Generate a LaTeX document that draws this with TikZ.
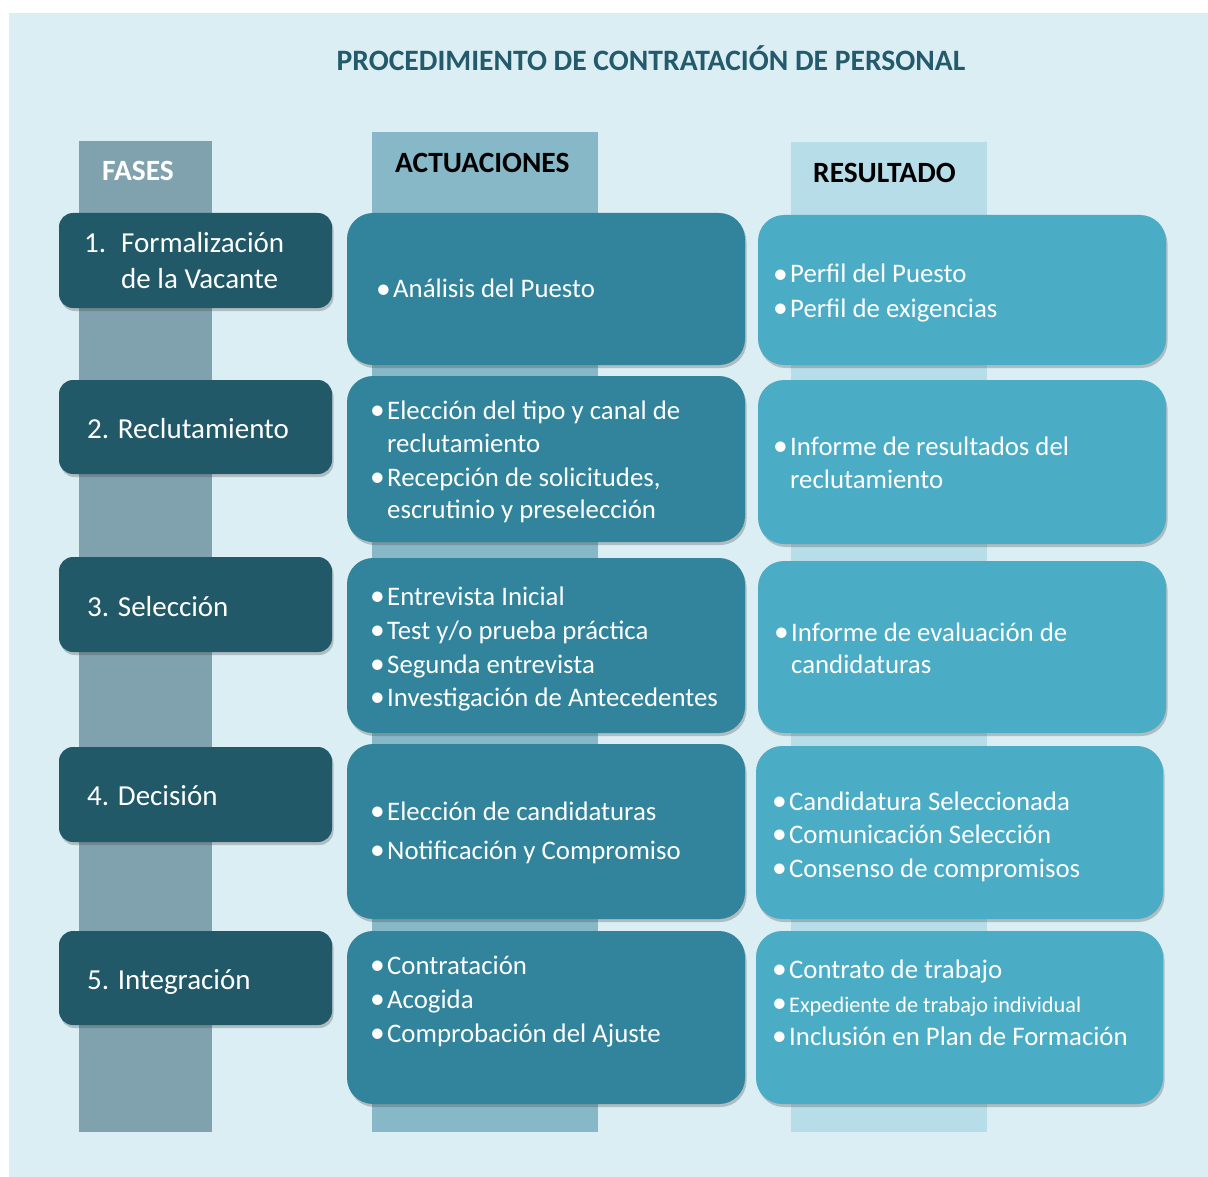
\documentclass[tikz,border=0pt]{standalone}
\usepackage{fontspec}
\setmainfont{Carlito}
\usetikzlibrary{shadows,fit}
\definecolor{bgc}{HTML}{DBEEF4}
\definecolor{barfase}{HTML}{7FA2AE}
\definecolor{baract}{HTML}{86B8C7}
\definecolor{barres}{HTML}{B7DDE8}
\definecolor{phasec}{HTML}{215968}
\definecolor{actc}{HTML}{31849B}
\definecolor{resc}{HTML}{4BACC6}
\definecolor{titlec}{HTML}{245B6C}
\tikzset{
  shad/.style={drop shadow={shadow xshift=1.5pt,shadow yshift=-3pt,opacity=0.3,fill=black!70}},
  phasebox/.style={fill=phasec, rounded corners=14pt, inner sep=0pt, shad},
  actbox/.style={fill=actc, rounded corners=26pt, inner sep=0pt, shad},
  resbox/.style={fill=resc, rounded corners=26pt, inner sep=0pt, shad},
  bar/.style={inner sep=0pt},
  txt/.style={anchor=base west, inner sep=0pt, text=white, font=\fontsize{26.8}{30}\selectfont},
  smalltxt/.style={txt, font=\fontsize{22.3}{26}\selectfont},
  phasetxt/.style={txt, font=\fontsize{29}{32}\selectfont},
  headtxt/.style={anchor=base west, inner sep=0pt, font=\bfseries\fontsize{29.4}{32}\selectfont},
}
\newcommand\bigbul{\raisebox{-0.8pt}{\fontsize{29.5}{30}\selectfont •}}
\newcommand\bitem[4]{\node[txt] (#1) at (#2,#3) {\makebox[17pt][l]{\bigbul}#4};}
\begin{document}
\begin{tikzpicture}[x=1pt,y=-1pt]
\useasboundingbox (0,0) rectangle (1208,1177);
% background
\node[fill=bgc, inner sep=0pt, fit={(9,13) (1208,1177)}] (bg) {};
% title
\node[anchor=base, inner sep=0pt, text=titlec, font=\bfseries\fontsize{29.6}{32}\selectfont] (title) at (651,71) {PROCEDIMIENTO DE CONTRATACIÓN DE PERSONAL};
% column bars
\node[bar, fill=barfase, fit={(79,141) (212,1132)}] (barF) {};
\node[bar, fill=baract, fit={(372,132) (598,1132)}] (barA) {};
\node[bar, fill=barres, fit={(791,142) (987,1132)}] (barR) {};
% headers
\node[headtxt, text=white] (hF) at (102,181) {FASES};
\node[headtxt, text=black] (hA) at (395,173) {ACTUACIONES};
\node[headtxt, text=black] (hR) at (813,183) {RESULTADO};
% phase boxes
\node[phasebox, fit={(59,213) (332,308)}] (p1) {};
\node[phasebox, fit={(59,380) (332,474)}] (p2) {};
\node[phasebox, fit={(59,557) (332,652)}] (p3) {};
\node[phasebox, fit={(59,747) (332,842)}] (p4) {};
\node[phasebox, fit={(59,931) (332,1025)}] (p5) {};
% actuaciones boxes
\node[actbox, fit={(347,213) (745,365)}] (a1) {};
\node[actbox, fit={(347,376) (745,542)}] (a2) {};
\node[actbox, fit={(347,558) (745,733)}] (a3) {};
\node[actbox, fit={(347,744) (745,919)}] (a4) {};
\node[actbox, fit={(347,931) (745,1104)}] (a5) {};
% resultado boxes
\node[resbox, fit={(758,215) (1166,365)}] (r1) {};
\node[resbox, fit={(758,380) (1166,544)}] (r2) {};
\node[resbox, fit={(758,561) (1166,733)}] (r3) {};
\node[resbox, fit={(756,746) (1163,919)}] (r4) {};
\node[resbox, fit={(756,931) (1163,1104)}] (r5) {};
% phase texts
\node[phasetxt] (p1n) at (84,253) {1.};
\node[phasetxt] (p1a) at (121,253) {Formalización};
\node[phasetxt] (p1b) at (121,289) {de la Vacante};
\node[phasetxt] (p2t) at (87,438) {2. Reclutamiento};
\node[phasetxt] (p3t) at (87,616) {3. Selección};
\node[phasetxt] (p4t) at (87,805) {4. Decisión};
\node[phasetxt] (p5t) at (87,989) {5. Integración};
% actuaciones texts
\bitem{a1l1}{376}{298}{Análisis del Puesto}
\bitem{a2l1}{370}{419}{Elección del tipo y canal de}
\node[txt] (a2l2) at (387,452) {reclutamiento};
\bitem{a2l3}{370}{486}{Recepción de solicitudes,}
\node[txt] (a2l4) at (387,518) {escrutinio y preselección};
\bitem{a3l1}{370}{605}{Entrevista Inicial}
\bitem{a3l2}{370}{639}{Test y/o prueba práctica}
\bitem{a3l3}{370}{673}{Segunda entrevista}
\bitem{a3l4}{370}{706}{Investigación de Antecedentes}
\bitem{a4l1}{370}{820}{Elección de candidaturas}
\bitem{a4l2}{370}{859}{Notificación y Compromiso}
\bitem{a5l1}{370}{974}{Contratación}
\bitem{a5l2}{370}{1008}{Acogida}
\bitem{a5l3}{370}{1042}{Comprobación del Ajuste}
% resultado texts
\bitem{r1l1}{773}{283}{Perfil del Puesto}
\bitem{r1l2}{773}{317}{Perfil de exigencias}
\bitem{r2l1}{773}{455}{Informe de resultados del}
\node[txt] (r2l2) at (790,488) {reclutamiento};
\bitem{r3l1}{774}{641}{Informe de evaluación de}
\node[txt] (r3l2) at (791,673) {candidaturas};
\bitem{r4l1}{772}{810}{Candidatura Seleccionada}
\bitem{r4l2}{772}{843}{Comunicación Selección}
\bitem{r4l3}{772}{877}{Consenso de compromisos}
\bitem{r5l1}{772}{978}{Contrato de trabajo}
\node[smalltxt] (r5l2) at (772,1012) {\makebox[17pt][l]{\bigbul}Expediente de trabajo individual};
\bitem{r5l3}{772}{1045}{Inclusión en Plan de Formación}
\end{tikzpicture}
\end{document}
